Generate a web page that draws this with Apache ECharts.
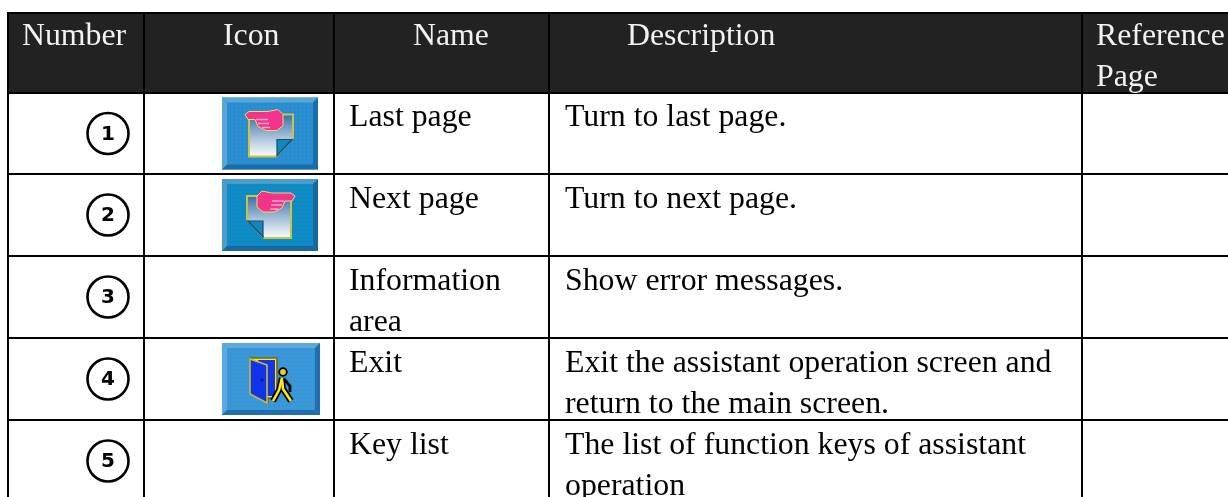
<!DOCTYPE html>
<html>
<head>
<meta charset="utf-8">
<style>html,body{margin:0;padding:0;background:#fff}#main{width:1228px;height:497px}</style>
</head>
<body>
<div id="main"></div>
<script src="https://cdn.jsdelivr.net/npm/echarts@6/dist/echarts.min.js"></script>
<script>
var headers = ['Number', 'Icon', 'Name', 'Description', 'Reference\nPage'];
var numbers = ['1', '2', '3', '4', '5'];
var icons = ['last', 'next', '', 'exit', ''];
var names = ['Last page', 'Next page', 'Information\narea', 'Exit', 'Key list'];
var descriptions = [
    'Turn to last page.',
    'Turn to next page.',
    'Show error messages.',
    'Exit the assistant operation screen and\nreturn to the main screen.',
    'The list of function keys of assistant\noperation'
];

// table layout
var colWidths = [136, 190, 215, 533, 180];
var rowHeights = [80, 81, 82, 82, 82, 90];
var headInset = [14, 79, 79, 78, 14];
var bodyInset = [0, 0, 15, 16, 0];
var rowPad = [4, 5, 5, 5, 5];

var font = '"Liberation Serif", "Times New Roman", serif';

function cell(col, row, text, inset, top, color, bg) {
    return {
        coord: [col, row],
        value: text,
        label: {
            show: true,
            position: 'insideTopLeft',
            distance: 0,
            align: 'left',
            verticalAlign: 'top',
            padding: [top, 0, 0, inset],
            overflow: 'none',
            lineOverflow: 'none',
            fontFamily: font,
            fontSize: 31.8,
            lineHeight: 41,
            color: color
        },
        itemStyle: { color: bg }
    };
}

var bodyCells = [];
headers.forEach(function (h, c) {
    bodyCells.push(cell(c, 0, h, headInset[c], 3, '#f2f2f2', '#222222'));
});
numbers.forEach(function (n, r) {
    bodyCells.push(cell(2, r + 1, names[r], bodyInset[2], rowPad[r], '#000', '#fff'));
    bodyCells.push(cell(3, r + 1, descriptions[r], bodyInset[3], rowPad[r], '#000', '#fff'));
});

function dots(w, h, color) {
    var list = [];
    for (var y = 6; y < h - 5; y += 4) {
        for (var x = 6 + (y % 8 ? 2 : 0); x < w - 5; x += 4) {
            list.push({ type: 'rect', shape: { x: x, y: y, width: 1, height: 1 }, style: { fill: color }, silent: true });
        }
    }
    return list;
}

function bevel(w, h, face, light, dark, dotColor) {
    return [
        { type: 'rect', shape: { x: 0, y: 0, width: w, height: h }, style: { fill: face } },
        { type: 'polygon', shape: { points: [[0, 0], [w, 0], [w - 5, 5], [5, 5]] }, style: { fill: light } },
        { type: 'polygon', shape: { points: [[0, 0], [5, 5], [5, h - 5], [0, h]] }, style: { fill: light } },
        { type: 'polygon', shape: { points: [[w, 0], [w, h], [w - 5, h - 5], [w - 5, 5]] }, style: { fill: dark } },
        { type: 'polygon', shape: { points: [[0, h], [5, h - 5], [w - 5, h - 5], [w, h]] }, style: { fill: dark } }
    ].concat(dots(w, h, dotColor));
}

var paperFill = {
    type: 'linear', x: 0, y: 0, x2: 0, y2: 1,
    colorStops: [{ offset: 0, color: '#2f6ca6' }, { offset: 0.55, color: '#a9c3da' }, { offset: 1, color: '#ffffff' }]
};

// page with the pointing hand, drawn for the "last" icon and flipped for "next"
function pageParts() {
    return [
        { type: 'polygon', shape: { points: [[27, 17], [71, 17], [71, 40], [54, 59], [27, 59]] }, style: { fill: paperFill, stroke: '#cfc23e', lineWidth: 2 } },
        { type: 'polygon', shape: { points: [[55, 42], [70, 42], [55, 58]] }, style: { fill: '#1288c0', stroke: '#1c4a66', lineWidth: 1.2 } },
        { type: 'polygon', shape: { points: [[23, 17], [27, 14], [46, 14], [56, 12], [61, 17], [61, 28], [55, 33], [44, 33], [36, 29], [33, 22], [26, 22]] }, style: { fill: '#f4338a', stroke: '#f2d96a', lineWidth: 1 } },
        { type: 'polyline', shape: { points: [[34, 22], [46, 22]] }, style: { stroke: '#ffb2d6', lineWidth: 1.4, fill: null } },
        { type: 'polyline', shape: { points: [[36, 26], [47, 26]] }, style: { stroke: '#ffb2d6', lineWidth: 1.4, fill: null } },
        { type: 'polyline', shape: { points: [[40, 30], [48, 30]] }, style: { stroke: '#ffb2d6', lineWidth: 1.4, fill: null } }
    ];
}

function exitIcon() {
    var legs = [[[60, 35], [57, 47], [51, 58]], [[60, 36], [61, 46], [69, 58]]];
    var kids = bevel(98, 72, '#3a98d8', '#5aa9df', '#1f6fae', '#3189cb').concat([
        { type: 'polygon', shape: { points: [[28, 15], [55, 15], [55, 55], [46, 55], [46, 60], [28, 51]] }, style: { fill: '#ffe81a', stroke: '#6f6a1c', lineWidth: 1.6 } },
        { type: 'polygon', shape: { points: [[36, 17], [53, 17], [53, 53], [44, 53]] }, style: { fill: '#1534e6' } },
        { type: 'polygon', shape: { points: [[28, 16], [45, 22], [45, 60], [28, 51]] }, style: { fill: '#1034ea', stroke: '#c9bd3a', lineWidth: 1.6 } },
        { type: 'circle', shape: { cx: 40, cy: 37, r: 1.8 }, style: { fill: '#0b1d8a' } },
        { type: 'circle', shape: { cx: 61, cy: 29, r: 3.8 }, style: { fill: '#e8d020', stroke: '#000', lineWidth: 1.8 } }
    ]);
    legs.forEach(function (p) {
        kids.push({ type: 'polyline', shape: { points: p }, style: { stroke: '#000', lineWidth: 6, fill: null } });
    });
    legs.forEach(function (p) {
        kids.push({ type: 'polyline', shape: { points: p }, style: { stroke: '#ffe81a', lineWidth: 2.6, fill: null } });
    });
    kids.push({ type: 'polyline', shape: { points: [[62, 36], [68, 43], [68, 49]] }, style: { stroke: '#000', lineWidth: 2.8, fill: null } });
    return kids;
}

function renderMark(params, api) {
    var r = params.dataIndex;
    var numCenter = api.coord([0, r + 1]);
    var iconCenter = api.coord([1, r + 1]);
    // the last row runs off the page, its circle still sits as in an 82px row
    var numY = numCenter[1] - (r === 4 ? (rowHeights[5] - 82) / 2 : 0);
    var children = [
        { type: 'circle', shape: { cx: numCenter[0] + 32, cy: numY, r: 20.5 }, style: { fill: '#fff', stroke: '#000', lineWidth: 2.6 } },
        {
            type: 'text',
            style: {
                x: numCenter[0] + 32, y: numY + 1, text: numbers[r],
                fill: '#000', font: 'bold 20px "DejaVu Sans"',
                align: 'center', verticalAlign: 'middle'
            }
        }
    ];
    var left = iconCenter[0] - 17, top = iconCenter[1] - 36;
    if (icons[r] === 'last') {
        children.push({ type: 'group', x: left, y: top, children: bevel(96, 72, '#2a90d2', '#5aa6d6', '#1a6ea8', '#2079bb').concat(pageParts()) });
    } else if (icons[r] === 'next') {
        children.push({
            type: 'group', x: left, y: top,
            children: bevel(96, 72, '#0f8cc6', '#4a9ccb', '#16689e', '#0a7db4').concat([
                { type: 'group', x: 96, scaleX: -1, children: pageParts() }
            ])
        });
    } else if (icons[r] === 'exit') {
        children.push({ type: 'group', x: left, y: top, children: exitIcon() });
    }
    return { type: 'group', children: children };
}

var myChart = echarts.init(document.getElementById('main'));

option = {
    animation: false,
    backgroundColor: '#fff',
    matrix: {
        left: 8,
        top: 13,
        width: colWidths.reduce(function (a, b) { return a + b; }, 0),
        height: rowHeights.reduce(function (a, b) { return a + b; }, 0),
        x: {
            show: false,
            data: headers.map(function (h, i) { return { value: 'c' + i, size: colWidths[i] }; })
        },
        y: {
            show: false,
            data: rowHeights.map(function (h, i) { return { value: 'r' + i, size: h }; })
        },
        body: {
            data: bodyCells,
            itemStyle: { borderColor: '#000', borderWidth: 2, color: '#fff' }
        },
        backgroundStyle: { color: '#fff', borderWidth: 0 },
        tooltip: { show: false }
    },
    series: [{
        type: 'custom',
        coordinateSystem: 'matrix',
        data: numbers.map(function (n, i) { return [0, i + 1]; }),
        renderItem: renderMark,
        silent: true
    }]
};

myChart.setOption(option);
</script>
</body>
</html>
